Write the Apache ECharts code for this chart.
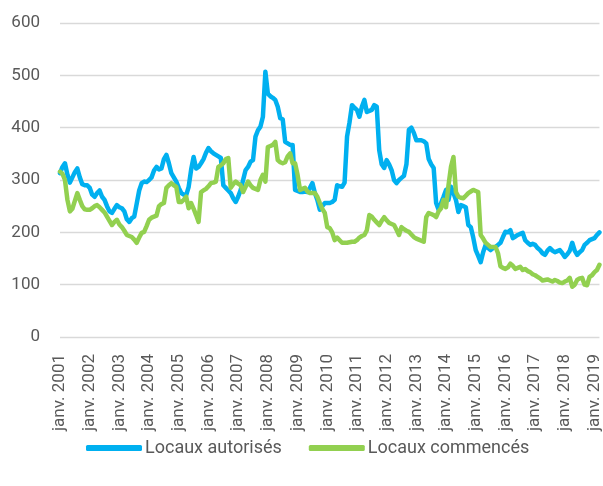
<!DOCTYPE html>
<html>
<head>
<meta charset="utf-8">
<script src="https://cdn.jsdelivr.net/npm/echarts@6/dist/echarts.min.js"></script>
<style>
html,body{margin:0;padding:0;background:#fff;}
#chart{width:603px;height:486px;}
</style>
</head>
<body>
<div id="chart"></div>
<script>
// Month abbreviations (French) and the years covered
const monthNames = ["janv.","févr.","mars","avr.","mai","juin","juil.","août","sept.","oct.","nov.","déc."];
const startYear = 2001;
const nMonths = 219; // janv. 2001 -> mars 2019

const yTicks = [0, 100, 200, 300, 400, 500, 600];

const seriesNames = ["Locaux autorisés", "Locaux commencés"];

// Locaux autorisés (monthly)
const autorises = [
  313,325,332,310,295,305,315,322,305,292,290,290,
  285,272,268,275,280,268,262,250,240,237,245,252,
  248,246,240,225,220,227,230,255,280,294,297,296,
  300,305,318,325,320,322,340,348,332,313,305,297,
  285,275,272,271,287,320,344,322,325,332,340,352,
  361,355,351,348,345,342,290,285,280,275,265,258,
  268,281,300,319,325,335,338,383,395,402,421,507,
  465,460,457,453,440,418,416,373,370,367,367,281,
  279,277,277,278,277,285,294,275,262,243,250,256,
  256,256,258,262,290,288,287,295,383,410,443,438,
  434,421,440,453,430,432,434,443,440,357,330,323,
  338,330,319,300,294,300,304,308,330,396,400,390,
  376,376,376,374,370,340,330,323,256,243,256,268,
  281,262,287,275,262,239,252,250,248,214,210,190,
  166,155,143,162,176,170,166,170,172,176,180,191,
  201,200,204,189,192,195,197,199,185,180,176,178,
  176,170,166,160,157,165,170,165,162,164,166,160,
  153,158,165,180,165,157,162,166,176,180,185,187,
  189,195,200
];

// Locaux commencés (monthly)
const commences = [
  316,312,300,262,240,245,260,275,262,250,244,243,
  243,246,250,252,248,243,238,230,222,214,220,224,
  215,210,203,195,193,191,186,180,190,199,201,212,
  224,228,230,232,250,254,256,285,290,294,290,287,
  258,258,262,268,246,256,245,233,220,277,280,283,
  288,294,295,297,325,328,332,340,342,285,292,297,
  293,290,277,287,297,290,285,283,281,300,310,297,
  363,365,367,373,338,334,332,334,345,351,332,332,
  310,281,283,285,278,275,275,275,268,256,245,237,
  210,208,200,185,190,185,180,180,180,181,182,182,
  185,190,193,195,204,233,230,224,219,214,222,229,
  223,218,216,214,205,195,210,206,203,201,196,191,
  188,186,184,182,229,237,235,233,229,240,246,262,
  248,290,325,344,277,268,266,265,270,275,278,281,
  279,277,195,188,180,176,172,172,172,160,135,132,
  130,133,140,136,130,132,134,128,130,126,124,120,
  118,115,112,108,109,110,108,106,109,107,104,103,
  106,108,113,96,100,109,112,113,100,99,115,118,
  124,128,138
];

const categories = [];
for (let i = 0; i < nMonths; i++) {
  categories.push(monthNames[i % 12] + " " + (startYear + Math.floor(i / 12)));
}

const chart = echarts.init(document.getElementById('chart'), null, {renderer: 'canvas'});
const txt = '#595959';
const font = 'Roboto';

chart.setOption({
  animation: false,
  backgroundColor: '#ffffff',
  grid: {left: 60, right: 2, top: 23, bottom: 149, containLabel: false},
  legend: {
    left: 81,
    top: 434,
    icon: 'roundRect',
    itemWidth: 56,
    itemHeight: 6,
    itemGap: 27,
    textStyle: {color: txt, fontSize: 18, fontFamily: font, padding: [0, 0, 0, -2]},
    data: seriesNames
  },
  xAxis: {
    type: 'category',
    data: categories,
    boundaryGap: false,
    axisLine: {show: false},
    axisTick: {show: false},
    splitLine: {show: false},
    axisLabel: {
      rotate: 90,
      margin: 17,
      color: txt,
      fontSize: 17,
      fontFamily: font,
      interval: function (index) { return index % 12 === 0; }
    }
  },
  yAxis: {
    type: 'value',
    min: yTicks[0],
    max: yTicks[yTicks.length - 1],
    interval: 100,
    axisLine: {show: false},
    axisTick: {show: false},
    splitLine: {lineStyle: {color: '#d9d9d9', width: 1.3}},
    axisLabel: {color: txt, fontSize: 17, fontFamily: font, margin: 20}
  },
  series: [
    {
      name: seriesNames[0],
      type: 'line',
      data: autorises,
      showSymbol: false,
      symbol: 'none',
      itemStyle: {color: '#00B0F0'},
      lineStyle: {color: '#00B0F0', width: 4.5, cap: 'round', join: 'round'}
    },
    {
      name: seriesNames[1],
      type: 'line',
      data: commences,
      showSymbol: false,
      symbol: 'none',
      itemStyle: {color: '#92D050'},
      lineStyle: {color: '#92D050', width: 4.5, cap: 'round', join: 'round'}
    }
  ]
});
</script>
</body>
</html>
